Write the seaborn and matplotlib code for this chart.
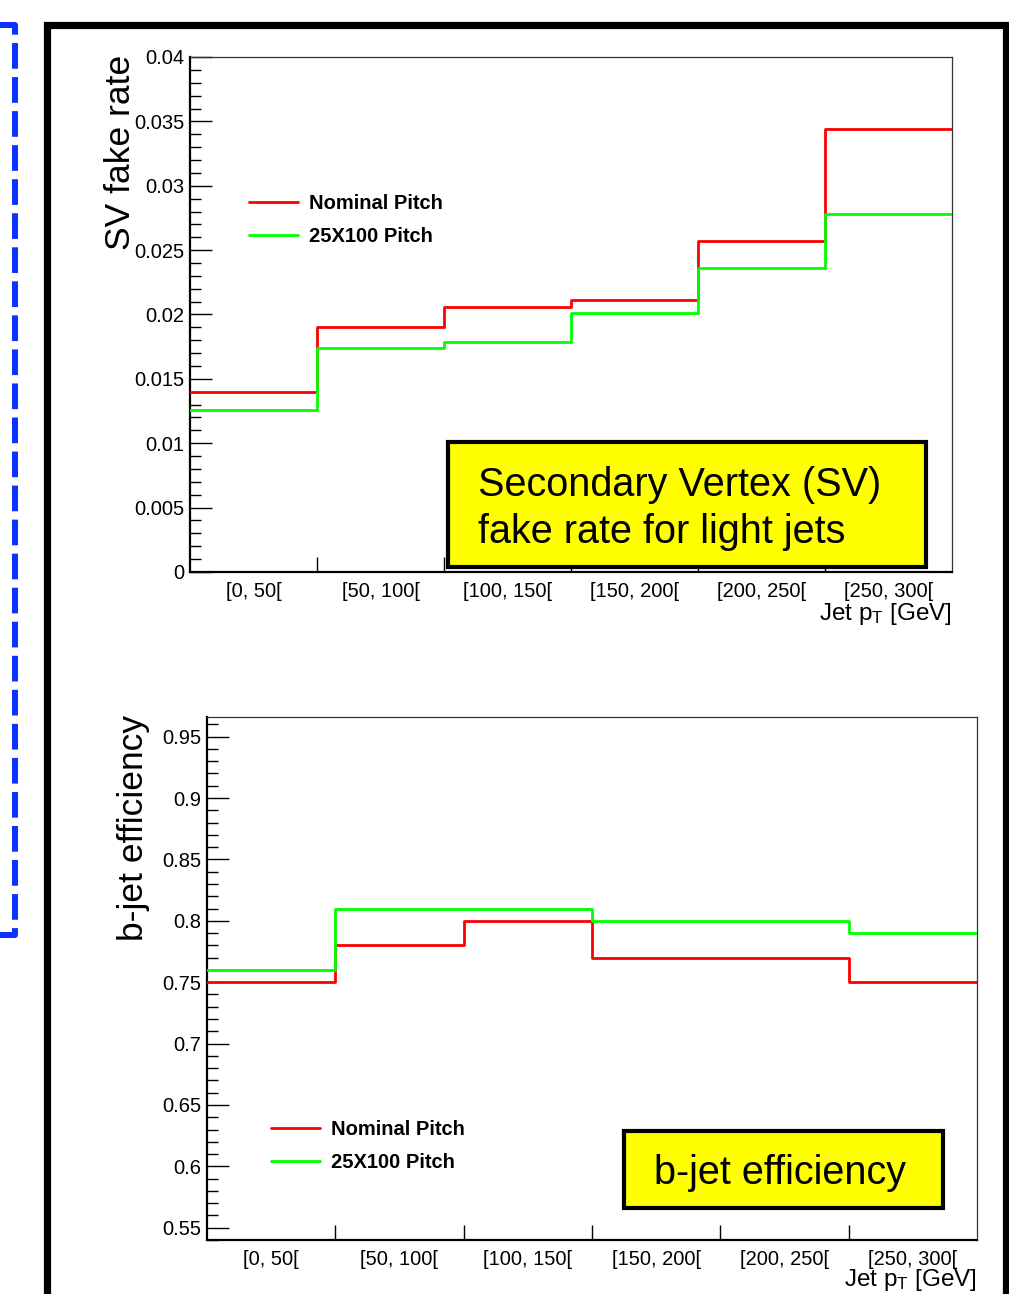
import numpy as np
import pandas as pd
import matplotlib
matplotlib.use("Agg")
import matplotlib.pyplot as plt
import seaborn as sns
from matplotlib.lines import Line2D
from matplotlib.patches import Rectangle
from matplotlib.ticker import MultipleLocator, FuncFormatter

# ---- data -------------------------------------------------------------
pt_edges = [0, 50, 100, 150, 200, 250, 300]
bin_labels = ["[0, 50[", "[50, 100[", "[100, 150[", "[150, 200[", "[200, 250[", "[250, 300["]
series_names = ["Nominal Pitch", "25X100 Pitch"]

fake_nominal = [0.0140, 0.0190, 0.0206, 0.0211, 0.0257, 0.0344]
fake_25x100 = [0.0126, 0.0174, 0.0179, 0.0201, 0.0236, 0.0278]

eff_nominal = [0.75, 0.78, 0.80, 0.77, 0.77, 0.75]
eff_25x100 = [0.76, 0.81, 0.81, 0.80, 0.80, 0.79]

colors = {"Nominal Pitch": "#ff0000", "25X100 Pitch": "#00ff00"}

# ---- style ------------------------------------------------------------
sns.set_theme(style="white")
plt.rcParams["font.family"] = ["Liberation Sans", "DejaVu Sans"]
plt.rcParams["mathtext.fontset"] = "custom"
plt.rcParams["mathtext.rm"] = "Liberation Sans"
plt.rcParams["mathtext.it"] = "Liberation Sans"
plt.rcParams["text.color"] = "black"
plt.rcParams["axes.labelcolor"] = "black"
plt.rcParams["xtick.color"] = "black"
plt.rcParams["ytick.color"] = "black"

W, H = 1009, 1294
fig = plt.figure(figsize=(W / 100, H / 100), dpi=100)
fig.patch.set_facecolor("white")


def fx(x):
    return x / W


def fy(y):
    return 1 - y / H


def axes_px(x0, y0, x1, y1):
    return fig.add_axes([fx(x0), fy(y1), (x1 - x0) / W, (y1 - y0) / H])


centers = [(a + b) / 2 for a, b in zip(pt_edges[:-1], pt_edges[1:])]


def make_frame(nominal, alt):
    return pd.DataFrame({
        "pt": centers * 2,
        "value": list(nominal) + list(alt),
        "series": [series_names[0]] * len(nominal) + [series_names[1]] * len(alt),
    })


def draw_panel(ax, df, ylim, major, minor, fmt):
    for name in series_names:
        sns.histplot(data=df[df["series"] == name], x="pt", weights="value",
                     bins=pt_edges, element="step", fill=False,
                     color=colors[name], linewidth=2.0, ax=ax, zorder=3)
    ax.set_xlim(pt_edges[0], pt_edges[-1])
    ax.set_ylim(*ylim)
    ax.set_xlabel("")
    ax.set_ylabel("")
    ax.set_facecolor("white")
    for side in ["left", "bottom"]:
        ax.spines[side].set_linewidth(1.6)
        ax.spines[side].set_color("black")
    for side in ["top", "right"]:
        ax.spines[side].set_linewidth(0.9)
        ax.spines[side].set_color("#333333")
    # bin labels at the centres, tick marks at the bin edges
    ax.set_xticks(centers)
    ax.set_xticklabels(bin_labels)
    ax.set_xticks(pt_edges[1:-1], minor=True)
    ax.tick_params(axis="x", which="major", length=0, pad=7, labelsize=14.5,
                   labelcolor="black")
    ax.tick_params(axis="x", which="minor", direction="in", length=11,
                   width=1.0, color="black", bottom=True)
    ax.yaxis.set_major_locator(MultipleLocator(major))
    ax.yaxis.set_minor_locator(MultipleLocator(minor))
    ax.yaxis.set_major_formatter(FuncFormatter(lambda v, p: fmt % v))
    ax.tick_params(axis="y", which="major", direction="in", length=16,
                   width=1.0, pad=4, labelsize=14.5, color="black",
                   labelcolor="black", left=True)
    ax.tick_params(axis="y", which="minor", direction="in", length=8,
                   width=1.0, color="black", left=True)
    ax.grid(False)


# ---- top panel: SV fake rate -----------------------------------------
ax1 = axes_px(190, 57, 952, 572)
draw_panel(ax1, make_frame(fake_nominal, fake_25x100), (0, 0.04), 0.005, 0.001, "%g")

# ---- bottom panel: b-jet efficiency -----------------------------------
ax2 = axes_px(207, 717, 977, 1240)
draw_panel(ax2, make_frame(eff_nominal, eff_25x100), (0.54, 0.966), 0.05, 0.01, "%g")

# axis titles
fig.text(fx(120), fy(55), "SV fake rate", rotation=90, ha="center", va="top",
         fontsize=25.5, color="black")
fig.text(fx(134), fy(715), "b-jet efficiency", rotation=90, ha="center", va="top",
         fontsize=25.5, color="black")
fig.text(fx(952), fy(620), r"Jet p$_\mathregular{T}$ [GeV]", ha="right",
         va="baseline", fontsize=17.5, color="black")
fig.text(fx(977), fy(1286), r"Jet p$_\mathregular{T}$ [GeV]", ha="right",
         va="baseline", fontsize=17.5, color="black")

# legends
def add_legend(ax, x_px, y_px):
    handles = [Line2D([], [], color=colors[n], lw=2.0) for n in series_names]
    leg = ax.legend(handles, series_names, loc="upper left",
                    bbox_to_anchor=(fx(x_px), fy(y_px)),
                    bbox_transform=fig.transFigure, frameon=False,
                    borderpad=0, borderaxespad=0, handlelength=2.45,
                    handletextpad=0.55, labelspacing=0.68,
                    prop={"weight": "bold", "size": 14.5,
                          "family": "Liberation Sans"})
    for t in leg.get_texts():
        t.set_color("black")
    leg.set_zorder(5)


add_legend(ax1, 249, 194)
add_legend(ax2, 271, 1120)

# yellow caption boxes
def caption_box(x0, y0, x1, y1):
    fig.add_artist(Rectangle((fx(x0), fy(y1)), (x1 - x0) / W, (y1 - y0) / H,
                             transform=fig.transFigure, facecolor="#ffff00",
                             edgecolor="black", linewidth=3.0, zorder=10))


caption_box(447.5, 441.5, 925.5, 566.5)
fig.text(fx(478), fy(496), "Secondary Vertex (SV)", ha="left", va="baseline",
         fontsize=28.5, zorder=11, color="black")
fig.text(fx(478), fy(543), "fake rate for light jets", ha="left", va="baseline",
         fontsize=28.5, zorder=11, color="black")

caption_box(623.5, 1130.5, 942.5, 1207.5)
fig.text(fx(780), fy(1184), "b-jet efficiency", ha="center", va="baseline",
         fontsize=28.5, zorder=11, color="black")

# surrounding black frame (open at the bottom)
fig.add_artist(Line2D([fx(47), fx(47), fx(1006), fx(1006)],
                      [fy(1300), fy(24.5), fy(24.5), fy(1300)],
                      transform=fig.transFigure, color="black", linewidth=5.2,
                      solid_joinstyle="miter", zorder=12))

# blue dashed bracket on the left
fig.add_artist(Line2D([fx(-2), fx(15), fx(15), fx(-2)],
                      [fy(24.5), fy(24.5), fy(935), fy(935)],
                      transform=fig.transFigure, color="#0a32ff", linewidth=4.3,
                      linestyle=(0, (4.3, 1.4)), zorder=12))

fig.savefig("out.png", dpi=100, facecolor="white")
